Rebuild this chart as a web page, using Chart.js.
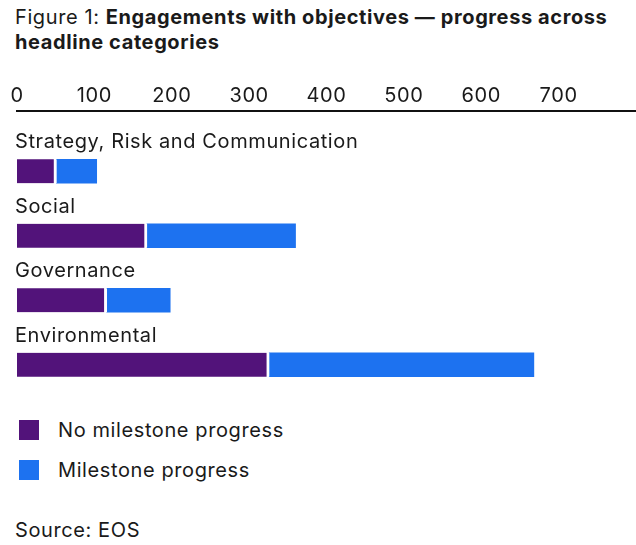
<!DOCTYPE html>
<html>
<head>
<meta charset="utf-8">
<script src="https://cdn.jsdelivr.net/npm/chart.js@4.4.1/dist/chart.umd.min.js"></script>
<style>
  html, body { margin: 0; padding: 0; background: #fff; }
  body { width: 636px; height: 545px; position: relative; overflow: hidden;
         font-family: Inter, "Noto Sans", sans-serif; color: #1a1a1a; letter-spacing: 0.6px; }
  #title { position: absolute; left: 15px; top: 5px; font-size: 20px; line-height: 25px; white-space: nowrap; }
  #title b { font-weight: 700; }
  #wrap { position: absolute; left: 0; top: 70px; width: 636px; height: 330px; }
  #legend { position: absolute; left: 19px; top: 420px; }
  .item { display: flex; align-items: center; height: 20px; margin-bottom: 20px; font-size: 20px; }
  .sw { width: 20px; height: 20px; margin-right: 19px; }
  #source { position: absolute; left: 15px; top: 518px; font-size: 20px; }
</style>
</head>
<body>
<div id="title">Figure 1: <b>Engagements with objectives — progress across<br>headline categories</b></div>
<div id="wrap"><canvas id="chart"></canvas></div>
<div id="legend"></div>
<div id="source">Source: EOS</div>
<script>
// Engagements with objectives, by headline category
const categories = ['Strategy, Risk and Communication', 'Social', 'Governance', 'Environmental'];
const noMilestoneProgress = [51, 168, 116, 326];
const milestoneProgress = [52, 192, 82, 342];
const seriesNames = ['No milestone progress', 'Milestone progress'];
const seriesColors = ['#52137A', '#1D72F0'];
const tickValues = [0, 100, 200, 300, 400, 500, 600, 700];

const FONT = 'Inter, "Noto Sans", sans-serif';
const TEXT = '#1a1a1a';
const SPACING = '0.6px';

// Same tracking on the canvas as in the surrounding text
const tracking = {
  id: 'tracking',
  beforeDraw(chart) { chart.ctx.letterSpacing = SPACING; }
};

// Category names sit above their bars, left-aligned
const categoryLabels = {
  id: 'categoryLabels',
  afterDatasetsDraw(chart) {
    const { ctx } = chart;
    const meta = chart.getDatasetMeta(0);
    ctx.save();
    ctx.letterSpacing = SPACING;
    ctx.font = '20px ' + FONT;
    ctx.fillStyle = TEXT;
    ctx.textAlign = 'left';
    ctx.textBaseline = 'middle';
    chart.data.labels.forEach((label, i) => {
      const bar = meta.data[i];
      ctx.fillText(label, chart.chartArea.left - 2, bar.y - bar.height / 2 - 17);
    });
    ctx.restore();
  }
};

const chart = new Chart(document.getElementById('chart'), {
  type: 'bar',
  data: {
    labels: categories,
    datasets: [
      {
        label: seriesNames[0],
        data: noMilestoneProgress,
        backgroundColor: seriesColors[0],
        borderColor: '#ffffff',
        borderWidth: { top: 0, bottom: 0, left: 0, right: 3 },
        borderSkipped: false,
        barThickness: 24
      },
      {
        label: seriesNames[1],
        data: milestoneProgress,
        backgroundColor: seriesColors[1],
        borderWidth: 0,
        barThickness: 24
      }
    ]
  },
  options: {
    indexAxis: 'y',
    responsive: true,
    maintainAspectRatio: false,
    animation: false,
    layout: { padding: { left: 17, right: 0, top: 11, bottom: 3 } },
    plugins: { legend: { display: false }, tooltip: { enabled: false } },
    scales: {
      x: {
        position: 'top',
        stacked: true,
        min: 0,
        max: 800,
        weight: 1,
        afterBuildTicks: (scale) => { scale.ticks = tickValues.map(v => ({ value: v })); },
        grid: { display: false, drawTicks: false },
        border: { display: true, color: '#111111', width: 2 },
        ticks: { font: { family: FONT, size: 20 }, color: TEXT, padding: 3, maxRotation: 0 }
      },
      // empty band between the axis line and the first category
      gap: {
        type: 'linear',
        position: 'top',
        min: 0,
        max: 800,
        weight: 0,
        grid: { display: false, drawTicks: false },
        border: { display: false },
        ticks: { display: false },
        afterFit: (scale) => { scale.height = 28; }
      },
      y: {
        stacked: true,
        display: false
      }
    }
  },
  plugins: [tracking, categoryLabels]
});

// Legend, one row per series
const legend = document.getElementById('legend');
chart.data.datasets.forEach(ds => {
  const row = document.createElement('div');
  row.className = 'item';
  const sw = document.createElement('span');
  sw.className = 'sw';
  sw.style.background = ds.backgroundColor;
  const txt = document.createElement('span');
  txt.textContent = ds.label;
  row.appendChild(sw);
  row.appendChild(txt);
  legend.appendChild(row);
});
</script>
</body>
</html>
